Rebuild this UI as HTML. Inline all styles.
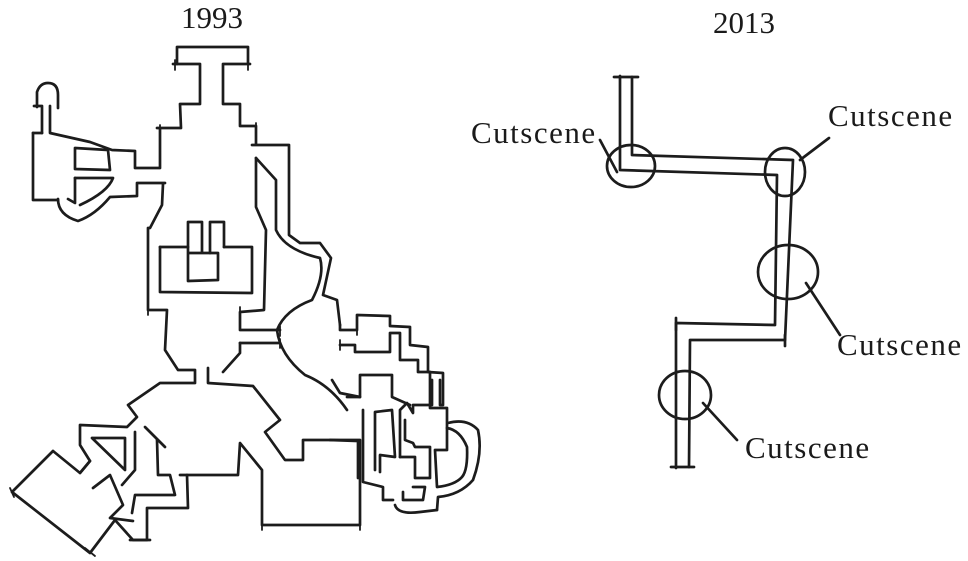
<!DOCTYPE html>
<html><head><meta charset="utf-8"><style>
html,body{margin:0;padding:0;background:#fff;}
svg{display:block;}
text{font-family:"Liberation Serif",serif;fill:#1a1a1a;}
</style></head><body>
<svg width="968" height="561" viewBox="0 0 968 561" xmlns="http://www.w3.org/2000/svg">
<g fill="none" stroke="#1c1c1c" stroke-width="2.7" stroke-linecap="round" stroke-linejoin="round">
<polyline points="177,64 177,47 248,47 248,64"/>
<polyline points="173,64 200,64 200,104 180,104 181,128 157,128 160,128 160,168 135,168 135,151 112,150 90,142 50,133 50,106"/>
<polyline points="250,64 223,64 223,104 240,104 240,126 256,126 256,145 252,145 289,145 289,235 300,243 320,243 331,258 323,295 337,300 340,325"/>
<path d="M37,107 L37,92 Q40,83 48,83 Q58,83 58,95 L58,108"/>
<polyline points="34,106 42,106 42,133"/>
<polyline points="33,133 42,133"/>
<polyline points="33,133 33,200 58,200"/>
<path d="M58,199 Q58,215 78,221 Q95,215 110,197 L137,196 L137,183 L165,183"/>
<polyline points="75,148 108,150 110,170 75,169 75,148"/>
<path d="M75,178 L113,178 Q108,192 80,205"/>
<polyline points="75,178 75,203 68,199"/>
<polyline points="163,184 162,205 150,228 148,228 148,310 167,310 165,350 178,370 195,370 195,383 160,383 128,405 137,417 127,427 80,425 80,445 90,461 80,473"/>
<polyline points="256,158 256,207 266,230 264,310 240,312 240,330 280,330"/>
<path d="M256,158 L276,180 L276,230 Q285,250 320,258 Q325,275 312,300 Q285,310 277,330 Q280,355 305,375 Q330,385 347,410"/>
<polyline points="160,247 188,247"/>
<polyline points="224,247 252,247 252,293 160,292 160,247"/>
<polyline points="202,252 202,222 188,222 188,253 218,253 218,280 188,281 188,253"/>
<polyline points="210,253 210,222 224,222 224,247"/>
<polyline points="240,343 280,343"/>
<polyline points="240,343 240,353 223,372"/>
<polyline points="208,368 208,383 253,386 280,420 265,432 285,460 303,460 303,440 360,440 360,525 262,525 262,470 240,443 238,475 180,475"/>
<polyline points="187,475 188,508 147,508 147,540 130,540"/>
<polyline points="53,451 12,492 90,553 115,520 133,540 150,540"/>
<polyline points="53,451 80,473 90,461"/>
<polyline points="92,438 125,438 125,470 92,438"/>
<polyline points="145,427 165,447"/>
<polyline points="135,432 135,470 122,485"/>
<polyline points="157,440 158,475 170,475 175,495 135,495 132,513"/>
<polyline points="93,488 110,475 123,505 110,518 133,521"/>
<polyline points="340,325 340,330 357,330 357,315 390,316 390,326 410,327 410,345 428,347 428,372 443,373 443,405 440,405 440,380"/>
<polyline points="340,345 355,345 355,352 390,352 390,333 400,333 400,360 418,360 418,372 430,372 430,408 447,408 447,428"/>
<polyline points="347,397 360,397 360,375 392,375 392,397 410,405"/>
<polyline points="332,380 340,393 360,397"/>
<polyline points="330,440 358,441 358,478"/>
<polyline points="363,410 363,482 383,487 383,500 393,500"/>
<polyline points="375,470 375,412 392,410 395,457 380,455 380,472"/>
<polyline points="400,457 400,410 407,403 413,413 413,405 432,405 432,380"/>
<polyline points="405,420 405,440 413,443 415,447 430,447 430,478 415,478 415,457 400,457"/>
<polyline points="413,487 425,487 423,500 403,500 403,492"/>
<path d="M447,428 Q460,430 467,447 Q468,470 462,477 Q455,485 437,487 L435,450 L447,450 L447,428"/>
<path d="M448,423 Q467,418 478,430 Q483,453 473,480 Q460,495 438,497 L437,510"/>
<path d="M395,505 Q398,515 420,512 L437,510"/>
<g stroke-width="1.8">
<line x1="175" y1="60" x2="175" y2="70"/><line x1="248" y1="60" x2="248" y2="70"/>
<line x1="160" y1="125" x2="160" y2="132"/><line x1="256" y1="123" x2="256" y2="132"/>
<line x1="148" y1="305" x2="148" y2="315"/><line x1="240" y1="307" x2="240" y2="317"/>
<line x1="280" y1="326" x2="280" y2="336"/><line x1="280" y1="339" x2="280" y2="348"/>
<line x1="360" y1="520" x2="360" y2="530"/><line x1="262" y1="520" x2="262" y2="530"/>
<line x1="10" y1="488" x2="14" y2="497"/><line x1="85" y1="548" x2="95" y2="556"/>
<line x1="357" y1="325" x2="357" y2="335"/><line x1="340" y1="340" x2="340" y2="350"/>
</g>
<polyline points="620,76 620,170 777,175 775,325 676,323 676,468"/>
<polyline points="632,77 632,155 793,160 785,340 690,340 689,467"/>
<line x1="614" y1="77" x2="638" y2="77"/>
<line x1="671" y1="467" x2="694" y2="467"/>
<line x1="676" y1="318" x2="676" y2="330"/>
<line x1="785" y1="335" x2="785" y2="346"/>
<ellipse cx="631" cy="166" rx="24" ry="21"/>
<ellipse cx="785" cy="172" rx="20" ry="24"/>
<ellipse cx="788" cy="272" rx="30" ry="27"/>
<ellipse cx="685" cy="395" rx="26" ry="24"/>
<line x1="600" y1="140" x2="617" y2="172"/>
<line x1="829" y1="138" x2="800" y2="160"/>
<line x1="806" y1="283" x2="840" y2="335"/>
<line x1="703" y1="403" x2="737" y2="440"/>
</g>
<text x="212" y="28" font-size="31" text-anchor="middle">1993</text>
<text x="744" y="33" font-size="31" text-anchor="middle">2013</text>
<g font-size="31" letter-spacing="1.5">
<text x="471" y="143">Cutscene</text>
<text x="828" y="126">Cutscene</text>
<text x="837" y="355">Cutscene</text>
<text x="745" y="458">Cutscene</text>
</g>
</svg>
</body></html>
